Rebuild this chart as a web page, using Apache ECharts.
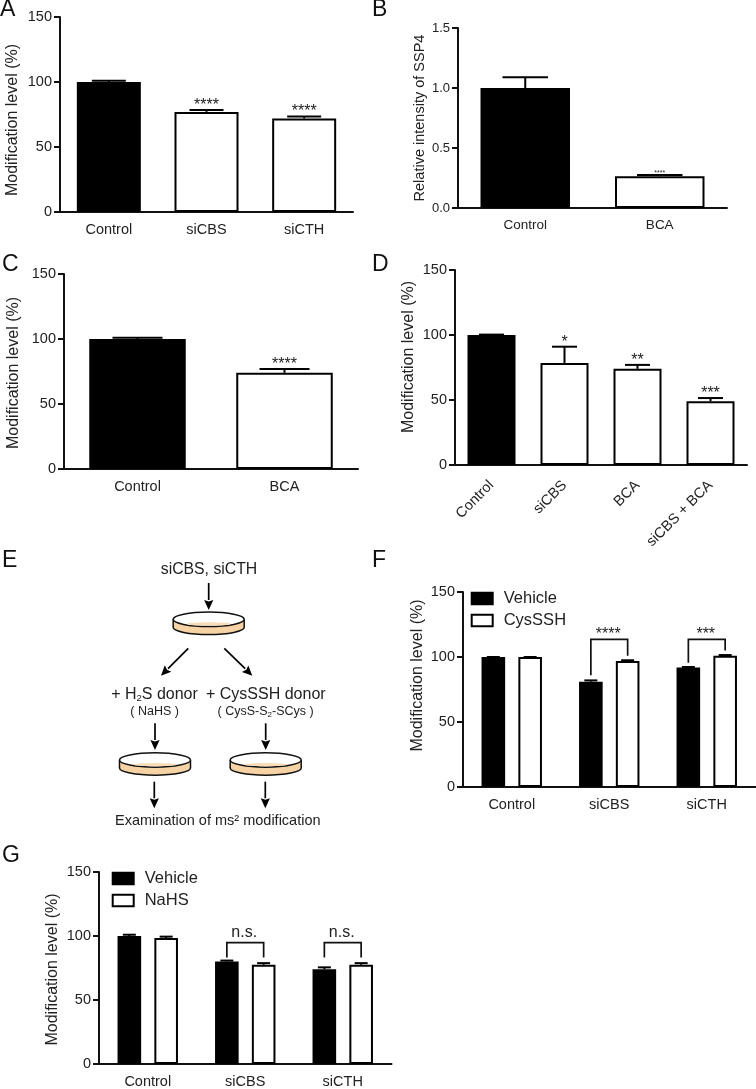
<!DOCTYPE html>
<html>
<head>
<meta charset="utf-8">
<style>
  html, body { margin: 0; padding: 0; background: #fff; }
  #main { width: 756px; height: 1089px; }
</style>
<script src="https://cdn.jsdelivr.net/npm/echarts@6/dist/echarts.min.js"></script>
</head>
<body>
<div id="main"></div>
<script>
// panel A
const catsA = ["Control", "siCBS", "siCTH"];
const valuesA = [100, 77, 72];
const errorsA = [101, 78.5, 73.5];
const starsA = ["", "****", "****"];
// panel B
const catsB = ["Control", "BCA"];
const valuesB = [1.0, 0.265];
const errorsB = [1.09, 0.275];
const starsB = ["", "****"];
// panel C
const catsC = ["Control", "BCA"];
const valuesC = [100, 74];
const errorsC = [101, 77];
const starsC = ["", "****"];
// panel D
const catsD = ["Control", "siCBS", "BCA", "siCBS + BCA"];
const valuesD = [100, 78.5, 74, 49];
const errorsD = [100.3, 91, 77, 51.5];
const starsD = ["", "*", "**", "***"];
// panel F
const catsF = ["Control", "siCBS", "siCTH"];
const vehicleF = [100, 81, 92];
const vehicleErrF = [100, 82, 92.3];
const cysF = [100, 97, 101];
const cysErrF = [100, 97.5, 101.5];
const bracketCatsF = [1, 2];
const bracketLeftF = [86, 95.5];
const bracketTopF = [113.5, 113.5];
const bracketRightF = [101, 105];
const bracketTextF = ["****", "***"];
// panel G
const catsG = ["Control", "siCBS", "siCTH"];
const vehicleG = [100, 80, 74];
const vehicleErrG = [101, 80.8, 75.5];
const nahsG = [98.5, 77.5, 77.5];
const nahsErrG = [99.5, 78.8, 78.8];
const bracketCatsG = [1, 2];
const bracketLeftG = [83.3, 83.3];
const bracketTopG = [94.8, 94.8];
const bracketRightG = [83.3, 83.3];
const bracketTextG = ["n.s.", "n.s."];

const FONT = "Liberation Sans, Arial, sans-serif";
const INK = "#111";
const LW = 2;

const myChart = echarts.init(document.getElementById("main"));

let grids = [], xAxes = [], yAxes = [], series = [], legends = [], graphics = [];

function addAxes(p) {
  const idx = grids.length;
  grids.push({ left: p.left, top: p.top, width: p.width, height: p.height });
  xAxes.push({
    type: "category",
    gridIndex: idx,
    data: p.cats,
    axisLine: { lineStyle: { color: INK, width: LW } },
    axisTick: { alignWithLabel: true, length: 6, lineStyle: { color: INK, width: LW } },
    axisLabel: {
      color: "#222",
      fontFamily: FONT,
      fontSize: p.xFont || 14.5,
      margin: p.xMargin || 10,
      rotate: p.rotate || 0,
      interval: 0
    }
  });
  yAxes.push({
    type: "value",
    gridIndex: idx,
    min: 0,
    max: p.max,
    interval: p.interval,
    name: p.name,
    nameLocation: "middle",
    nameGap: p.nameGap,
    nameTextStyle: {
      color: "#222",
      fontFamily: FONT,
      fontSize: p.nameFont || 16,
      padding: p.namePad || 0
    },
    splitLine: { show: false },
    axisLine: { show: true, lineStyle: { color: INK, width: LW } },
    axisTick: { show: true, length: 6, lineStyle: { color: INK, width: LW } },
    axisLabel: {
      color: "#222",
      fontFamily: FONT,
      fontSize: p.yFont || 14.5,
      margin: 8,
      formatter: p.yFormat
    }
  });
  return idx;
}

function barSeries(idx, name, values, barWidth, color, extra) {
  return Object.assign({
    name: name,
    type: "bar",
    xAxisIndex: idx,
    yAxisIndex: idx,
    data: values,
    barWidth: barWidth,
    itemStyle: { color: color, borderColor: "#000", borderWidth: LW }
  }, extra || {});
}

// error bar (upper half only) with optional stars above it
function errorSeries(idx, values, errors, stars, capWidth, offset, starFont) {
  return {
    type: "custom",
    xAxisIndex: idx,
    yAxisIndex: idx,
    silent: true,
    clip: false,
    z: 1,
    data: values.map((v, i) => [i, errors[i], v]),
    renderItem: function (params, api) {
      const top = api.coord([api.value(0), api.value(1)]);
      const base = api.coord([api.value(0), api.value(2)]);
      const x = top[0] + offset;
      const line = { stroke: "#000", lineWidth: LW };
      const children = [
        { type: "line", shape: { x1: x, y1: top[1], x2: x, y2: base[1] }, style: line },
        { type: "line", shape: { x1: x - capWidth / 2, y1: top[1], x2: x + capWidth / 2, y2: top[1] }, style: line }
      ];
      const star = stars && stars[params.dataIndex];
      if (star) {
        children.push({
          type: "text",
          style: {
            text: star, x: x, y: top[1] + starFont * 0.22,
            align: "center", verticalAlign: "bottom",
            fontSize: starFont, fontFamily: FONT, fill: "#222"
          }
        });
      }
      return { type: "group", children: children };
    }
  };
}

// significance bracket spanning the two bars of a group
function bracketSeries(idx, cats, left, top, right, texts, offset, textFont, textLift) {
  return {
    type: "custom",
    xAxisIndex: idx,
    yAxisIndex: idx,
    silent: true,
    clip: false,
    data: cats.map((c, i) => [c, top[i], left[i], right[i]]),
    renderItem: function (params, api) {
      const t = api.coord([api.value(0), api.value(1)]);
      const l = api.coord([api.value(0), api.value(2)]);
      const r = api.coord([api.value(0), api.value(3)]);
      return {
        type: "group",
        children: [
          {
            type: "polyline",
            shape: { points: [[t[0] - offset, l[1]], [t[0] - offset, t[1]], [t[0] + offset, t[1]], [t[0] + offset, r[1]]] },
            style: { fill: "none", stroke: INK, lineWidth: 1.7 }
          },
          {
            type: "text",
            style: {
              text: texts[params.dataIndex], x: t[0] - 1, y: t[1] + textLift,
              align: "center", verticalAlign: "bottom",
              fontSize: textFont, fontFamily: FONT, fill: "#222"
            }
          }
        ]
      };
    }
  };
}

function singlePanel(p, values, errors, stars) {
  const idx = addAxes(p);
  series.push(barSeries(idx, p.name, values.map((v, i) => ({
    value: v,
    itemStyle: { color: i === 0 ? "#000" : "#fff" }
  })), p.barWidth, "#fff"));
  series.push(errorSeries(idx, values, errors, stars, p.capWidth, 0, p.starFont || 16));
}

function groupPanel(p, name1, v1, e1, name2, v2, e2, bCats, bLeft, bTop, bRight, bText, legendPos, textFont, textLift) {
  const idx = addAxes(p);
  const opts = { barGap: "56%" };
  series.push(errorSeries(idx, v1, e1, null, 13, -18.4, 16));
  series.push(errorSeries(idx, v2, e2, null, 13, 18.4, 16));
  series.push(barSeries(idx, name1, v1, 23.6, "#000", opts));
  series.push(barSeries(idx, name2, v2, 23.6, "#fff", opts));
  series.push(bracketSeries(idx, bCats, bLeft, bTop, bRight, bText, 18.4, textFont, textLift));
  legends.push({
    data: [name1, name2],
    left: legendPos[0],
    top: legendPos[1],
    orient: "vertical",
    icon: "rect",
    itemWidth: 21,
    itemHeight: 11.5,
    itemGap: 5,
    selectedMode: false,
    padding: 0,
    textStyle: { color: "#222", fontFamily: FONT, fontSize: 16.5, padding: [0, 0, 0, 6] }
  });
}

singlePanel({ left: 60, top: 17, width: 293, height: 195, cats: catsA, max: 150, interval: 50,
  name: "Modification level (%)", nameGap: 39, namePad: [0, 11, 0, 0], barWidth: 64, capWidth: 34 }, valuesA, errorsA, starsA);

singlePanel({ left: 458, top: 28, width: 269, height: 180, cats: catsB, max: 1.5, interval: 0.5,
  name: "Relative intensity of SSP4", nameFont: 14.5, nameGap: 31, barWidth: 89.5, capWidth: 45.5, xFont: 13.5, yFont: 13,
  yFormat: v => v.toFixed(1), starFont: 7 }, valuesB, errorsB, starsB);

singlePanel({ left: 64, top: 274, width: 294, height: 195, cats: catsC, max: 150, interval: 50,
  name: "Modification level (%)", nameGap: 42, namePad: [0, 3, 0, 0], barWidth: 96.5, capWidth: 50 }, valuesC, errorsC, starsC);

singlePanel({ left: 455, top: 270, width: 292, height: 195, cats: catsD, max: 150, interval: 50,
  name: "Modification level (%)", nameGap: 38, namePad: [0, 0, 0, 21], barWidth: 48, capWidth: 25, rotate: 45, xMargin: 18 }, valuesD, errorsD, starsD);

groupPanel({ left: 463, top: 592, width: 292.5, height: 195, cats: catsF, max: 150, interval: 50,
  name: "Modification level (%)", nameGap: 37, namePad: [0, 0, 0, 28] },
  "Vehicle", vehicleF, vehicleErrF, "CysSSH", cysF, cysErrF,
  bracketCatsF, bracketLeftF, bracketTopF, bracketRightF, bracketTextF, [470.7, 590], 16, 3);

groupPanel({ left: 99, top: 872, width: 292.5, height: 195, cats: catsG, max: 150, interval: 50,
  name: "Modification level (%)", nameGap: 38, namePad: [0, 3, 0, 0] },
  "Vehicle", vehicleG, vehicleErrG, "NaHS", nahsG, nahsErrG,
  bracketCatsG, bracketLeftG, bracketTopG, bracketRightG, bracketTextG, [111.7, 870], 16, -2);

// panel letters
[["A", 0, 10], ["B", 372, 10], ["C", 2, 265], ["D", 372, 265], ["E", 2, 561], ["F", 372, 561], ["G", 2, 856]].forEach(l => {
  graphics.push({
    type: "text", x: l[1], y: l[2],
    style: { text: l[0], fontSize: 23, fontFamily: FONT, fill: "#111", align: "left", verticalAlign: "middle" }
  });
});

// panel E schematic
function label(text, cx, cy, size, rich) {
  graphics.push({
    type: "text", x: cx, y: cy,
    style: { text: text, fontSize: size, fontFamily: FONT, fill: "#222", align: "center", verticalAlign: "middle", rich: rich }
  });
}
function arrow(x1, y1, x2, y2) {
  const a = Math.atan2(y2 - y1, x2 - x1), len = 10, w = 4.6;
  const bx = x2 - Math.cos(a) * len, by = y2 - Math.sin(a) * len;
  const nx = -Math.sin(a) * w, ny = Math.cos(a) * w;
  graphics.push({ type: "line", shape: { x1: x1, y1: y1, x2: bx, y2: by }, style: { stroke: "#000", lineWidth: 1.7 } });
  graphics.push({
    type: "polygon",
    shape: { points: [[x2, y2], [bx + nx, by + ny], [x2 - Math.cos(a) * len * 0.85, y2 - Math.sin(a) * len * 0.85], [bx - nx, by - ny]] },
    style: { fill: "#000" }
  });
}
function dish(cx, cy) {
  const rx = 35.5, ry = 7.2, depth = 8;
  const wall = { stroke: "#111", lineWidth: 1.5 };
  graphics.push({ type: "ellipse", shape: { cx: cx, cy: cy + depth, rx: rx, ry: ry }, style: { fill: "#F6D3A4", stroke: "#111", lineWidth: 1.5 } });
  graphics.push({ type: "rect", shape: { x: cx - rx, y: cy, width: 2 * rx, height: depth }, style: { fill: "#F6D3A4" } });
  graphics.push({ type: "line", shape: { x1: cx - rx, y1: cy, x2: cx - rx, y2: cy + depth }, style: wall });
  graphics.push({ type: "line", shape: { x1: cx + rx, y1: cy, x2: cx + rx, y2: cy + depth }, style: wall });
  graphics.push({ type: "ellipse", shape: { cx: cx, cy: cy, rx: rx, ry: ry }, style: { fill: "#fff", stroke: "#111", lineWidth: 1.5 } });
  graphics.push({ type: "ellipse", shape: { cx: cx, cy: cy + 4.6, rx: 22, ry: 1.7 }, style: { fill: "#F8DDB8" } });
}

const sub = { sub: { fontSize: 9.5, fontFamily: FONT, fill: "#222", padding: [8, 0, 0, 0] } };
label("siCBS, siCTH", 209, 569.3, 15.8);
arrow(208.7, 583, 208.7, 610);
dish(208.7, 619.3);
arrow(188.3, 648.3, 161, 675.7);
arrow(224.3, 648.3, 252.3, 675.7);
label("+ H{sub|2}S donor", 154.5, 694.3, 16, sub);
label("+ CysSSH donor", 265.8, 694.3, 16);
label("( NaHS )", 154.6, 711.3, 12.5);
label("( CysS-S{sub|2}-SCys )", 265.6, 711.3, 12.5, { sub: { fontSize: 8, fontFamily: FONT, fill: "#222", padding: [7, 0, 0, 0] } });
arrow(155, 723.3, 155, 750);
arrow(265.7, 723.3, 265.7, 750);
dish(155, 760);
dish(265.7, 760);
arrow(154.3, 781.7, 154.3, 808.3);
arrow(265.3, 781.7, 265.3, 808.3);
label("Examination of ms² modification", 217.8, 820.7, 14.5);

myChart.setOption({
  animation: false,
  backgroundColor: "#fff",
  grid: grids,
  xAxis: xAxes,
  yAxis: yAxes,
  legend: legends,
  series: series,
  graphic: graphics
});
</script>
</body>
</html>
